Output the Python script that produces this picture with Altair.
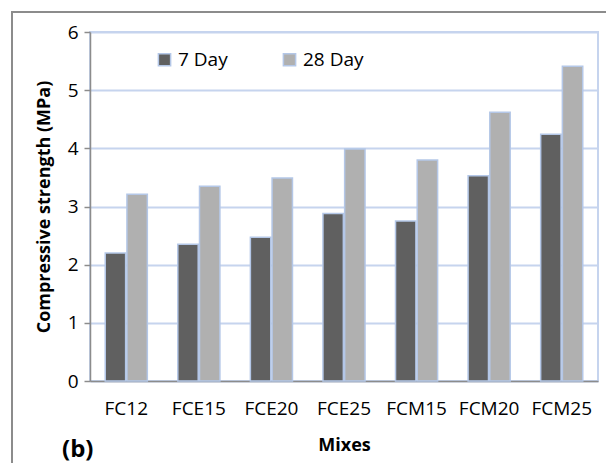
import altair as alt
import pandas as pd

mixes = ["FC12", "FCE15", "FCE20", "FCE25", "FCM15", "FCM20", "FCM25"]
day7 = [2.20, 2.35, 2.47, 2.88, 2.75, 3.53, 4.24]
day28 = [3.21, 3.35, 3.49, 3.99, 3.80, 4.62, 5.41]
series = ["7 Day", "28 Day"]

rows = []
for m, a, b in zip(mixes, day7, day28):
    rows.append({"Mix": m, "Age": series[0], "Strength": a})
    rows.append({"Mix": m, "Age": series[1], "Strength": b})
df = pd.DataFrame(rows)

FONT = "Open Sans"

frame = alt.Chart(pd.DataFrame({"k": [0]})).mark_rect(
    fill="transparent", stroke="#8c8c8c", strokeWidth=2
).encode(
    x=alt.value(-78), x2=alt.value(540), y=alt.value(-20), y2=alt.value(480)
)

bars = alt.Chart(df).mark_bar(stroke="#B4C7E7", strokeWidth=1.5).encode(
    x=alt.X("Mix:N", sort=mixes,
            scale=alt.Scale(paddingInner=0.42, paddingOuter=0.21),
            axis=alt.Axis(title="Mixes", labelAngle=0, ticks=False,
                          domainColor="#8c8c8c", domainWidth=1.5,
                          labelFontSize=19, labelPadding=18, labelColor="black",
                          titleFontSize=18, titleFontWeight="bold", titlePadding=18,
                          titleColor="black", labelFont=FONT, titleFont=FONT)),
    xOffset=alt.XOffset("Age:N", sort=series, scale=alt.Scale(paddingInner=0.06)),
    y=alt.Y("Strength:Q", scale=alt.Scale(domain=[0, 6]),
            axis=alt.Axis(title="Compressive strength (MPa)", values=[0, 1, 2, 3, 4, 5, 6],
                          grid=True, gridColor="#C6D4EE", gridWidth=2,
                          domainColor="#8c8c8c", domainWidth=1.5,
                          tickColor="#8c8c8c", tickSize=6, tickWidth=1.5,
                          labelFontSize=19, labelPadding=6, labelColor="black",
                          titleFontSize=18, titleFontWeight="bold", titlePadding=14,
                          titleColor="black", labelFont=FONT, titleFont=FONT)),
    color=alt.Color("Age:N", sort=series,
                    scale=alt.Scale(domain=series, range=["#606060", "#B0B0B0"]),
                    legend=alt.Legend(title=None, orient="none", legendX=65, legendY=18,
                                      direction="horizontal", symbolType="square",
                                      symbolSize=150, symbolStrokeColor="#B4C7E7",
                                      symbolStrokeWidth=1.5, labelFontSize=19,
                                      labelFont=FONT, labelColor="black",
                                      columnPadding=52, labelOffset=4)),
)

label = alt.Chart(pd.DataFrame({"t": ["(b)"]})).mark_text(
    text="(b)", font=FONT, fontSize=24, fontWeight="bold", align="left", baseline="middle",
    color="black"
).encode(x=alt.value(-28), y=alt.value(418))

chart = alt.layer(frame, bars, label).properties(
    width=508, height=349,
    autosize=alt.AutoSizeParams(type="none"),
    padding={"left": 82, "top": 24, "right": 8, "bottom": 82},
).configure_view(stroke="#C6D4EE", strokeWidth=2)

chart.save("out.html", embed_options={"renderer": "svg", "actions": False})
